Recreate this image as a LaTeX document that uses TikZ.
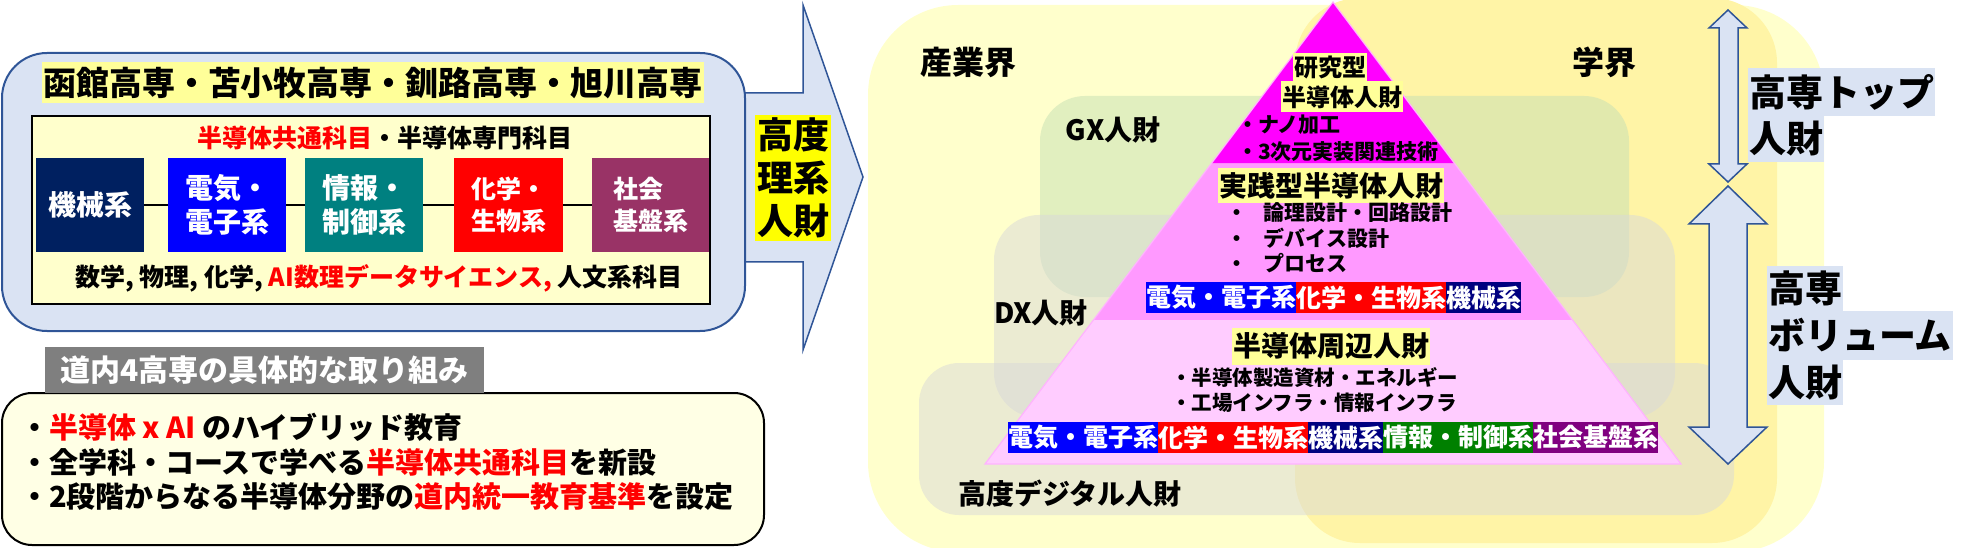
\documentclass[tikz,border=0pt]{standalone}
\usepackage{fontspec}
\setmainfont{Noto Sans CJK JP}
\usetikzlibrary{positioning, calc}

\definecolor{paleblue}{HTML}{DAE3F3}
\definecolor{frameblue}{HTML}{2F5597}
\definecolor{lightyel}{HTML}{FFFF99}
\definecolor{creamyel}{HTML}{FFFFCC}
\definecolor{cream}{HTML}{FFFFE5}
\definecolor{labelgray}{HTML}{7F7F7F}
\definecolor{brightyel}{HTML}{FFFF00}
\definecolor{acadyel}{HTML}{FFF4A6}
\definecolor{gxgreen}{HTML}{C5E0B4}
\definecolor{dxgray}{HTML}{D9D9D9}
\definecolor{navyA}{HTML}{002060}
\definecolor{navyB}{HTML}{000080}
\definecolor{tealC}{HTML}{008080}
\definecolor{plumD}{HTML}{993366}
\definecolor{greenE}{HTML}{008000}
\definecolor{purpleF}{HTML}{800080}
\definecolor{pyrtop}{HTML}{FF00FF}
\definecolor{pyrmid}{HTML}{FF99FF}
\definecolor{pyrlow}{HTML}{FFCCFF}
\definecolor{pyredge}{HTML}{FFB3FF}

\newcommand{\jpfs}[2]{\fontsize{#1}{#2}\selectfont\bfseries}

\tikzset{
  deptbox/.style={minimum height=94, inner sep=0, text=white, align=left, font=\jpfs{28}{34}},
  bandseg/.style={minimum height=31, inner sep=0, text=white, font=\jpfs{25}{30}},
  hlbox/.style={fill=lightyel, inner xsep=1, inner ysep=1},
  sidelabel/.style={fill=paleblue, inner xsep=1, inner ysep=0, minimum height=46, anchor=north west, font=\jpfs{37}{40}},
  bigarrow/.style={draw=frameblue, line width=1.5, fill=paleblue}
}

\begin{document}
\begin{tikzpicture}[x=1pt, y=-1pt, every node/.style={outer sep=0}]
  \useasboundingbox (0,0) rectangle (1982,548);

  % arrow to the right, drawn under the left box
  \draw[bigarrow] (720,93) -- (803,93) -- (803,5) -- (863,177) -- (803,350)
    -- (803,262) -- (720,262) -- cycle;

  % left: four colleges
  \draw[frameblue, line width=2, fill=paleblue, rounded corners=45] (2,53) rectangle (745,331);
  \node[fill=lightyel, inner xsep=1, minimum height=41, font=\jpfs{33}{40}] (kosen) at (373,83)
    {函館高専・苫小牧高専・釧路高専・旭川高専};
  \draw[line width=2, fill=creamyel] (32,116) rectangle (710,304);
  \node[inner sep=0, font=\jpfs{25}{30}] (subjA) at (385,138)
    {\textcolor{red}{半導体共通科目}・半導体専門科目};
  \node[deptbox, fill=navyA, minimum width=108] (kikai) at (90,205) {機械系};
  \node[deptbox, fill=blue, minimum width=118] (denki) at (227,205) {電気・\\電子系};
  \node[deptbox, fill=tealC, minimum width=118] (joho) at (364,205) {情報・\\制御系};
  \node[deptbox, fill=red, minimum width=109, font=\jpfs{25}{32}] (kagaku) at (508.5,205) {化学・\\生物系};
  \node[deptbox, fill=plumD, minimum width=117, font=\jpfs{25}{32}] (shakai) at (650.5,205) {社会\\基盤系};
  \foreach \a/\b in {kikai/denki, denki/joho, joho/kagaku, kagaku/shakai}
    \draw[line width=2] (\a) -- (\b);
  \node[inner sep=0, font=\jpfs{25}{30}] (subjB) at (379,278)
    {数学, 物理, 化学, \textcolor{red}{AI数理データサイエンス,} 人文系科目};

  \node[fill=brightyel, inner xsep=2, inner ysep=3, align=center, font=\jpfs{36}{43}] (rikei) at (793,178)
    {高度\\理系\\人財};

  % left: efforts
  \draw[line width=2, fill=cream, rounded corners=30] (2,393) rectangle (764,545);
  \node[fill=labelgray, text=white, anchor=north west, minimum width=439, minimum height=46,
    inner sep=0, font=\jpfs{30}{34}] (torikumi) at (45,347) {道内4高専の具体的な取り組み};
  \node[anchor=west, inner sep=0, font=\jpfs{29}{34}] (itemA) at (20,427)
    {・\textcolor{red}{半導体 x AI} のハイブリッド教育};
  \node[anchor=west, inner sep=0, font=\jpfs{29}{34}] (itemB) at (20,462)
    {・全学科・コースで学べる\textcolor{red}{半導体共通科目}を新設};
  \node[anchor=west, inner sep=0, font=\jpfs{29}{34}] (itemC) at (20,497)
    {・2段階からなる半導体分野の\textcolor{red}{道内統一教育基準}を設定};

  % right: regions
  \fill[creamyel, rounded corners=90] (868,5) rectangle (1824,552);
  \fill[acadyel, rounded corners=65] (1295,-2) rectangle (1777,543);
  \fill[gxgreen, opacity=0.5, rounded corners=45] (1040,96) rectangle (1629,297);
  \fill[dxgray, opacity=0.5, rounded corners=45] (994,215) rectangle (1675,418);
  \fill[dxgray, opacity=0.5, rounded corners=40] (919,363) rectangle (1734,515);

  \node[inner sep=0, font=\jpfs{32}{36}] (sangyo) at (968,62) {産業界};
  \node[inner sep=0, font=\jpfs{32}{36}] (gakkai) at (1604,62) {学界};
  \node[inner sep=0, font=\jpfs{28}{32}] (gx) at (1113,130) {GX人財};
  \node[inner sep=0, font=\jpfs{28}{32}] (dx) at (1041,313) {DX人財};
  \node[inner sep=0, font=\jpfs{28}{32}] (digital) at (1070,494) {高度デジタル人財};

  % pyramid
  \coordinate (apex) at (1333,2);
  \coordinate (bl) at (985,464);
  \coordinate (br) at (1681,464);
  \coordinate (l1) at ($(apex)!0.3485!(bl)$);
  \coordinate (r1) at ($(apex)!0.3485!(br)$);
  \coordinate (l2) at ($(apex)!0.6883!(bl)$);
  \coordinate (r2) at ($(apex)!0.6883!(br)$);
  \fill[pyrlow] (l2) -- (r2) -- (br) -- (bl) -- cycle;
  \fill[pyrmid] (l1) -- (r1) -- (r2) -- (l2) -- cycle;
  \fill[pyrtop] (apex) -- (r1) -- (l1) -- cycle;
  \draw[pyredge, line width=1.2] (apex) -- (br) -- (bl) -- cycle;

  \node[hlbox, minimum height=28, font=\jpfs{24}{28}] (kenkyu) at (1330,67) {研究型};
  \node[hlbox, minimum height=31, font=\jpfs{24}{28}] (kenkyuB) at (1342,97) {半導体人財};
  \node[anchor=west, inner sep=0, font=\jpfs{21}{24}] (nano) at (1237,125) {・ナノ加工};
  \node[anchor=west, inner sep=0, font=\jpfs{21}{24}] (jisso) at (1237,152) {・3次元実装関連技術};

  \node[hlbox, minimum height=35, font=\jpfs{28}{32}] (jissen) at (1331,186) {実践型半導体人財};
  \node[anchor=west, inner sep=0, font=\jpfs{21}{24}] (ronri) at (1226.5,213) {・\hspace{16.5pt}論理設計・回路設計};
  \node[anchor=west, inner sep=0, font=\jpfs{21}{24}] (device) at (1226.5,238) {・\hspace{16.5pt}デバイス設計};
  \node[anchor=west, inner sep=0, font=\jpfs{21}{24}] (process) at (1226.5,263) {・\hspace{16.5pt}プロセス};

  \node[bandseg, fill=blue, anchor=west] (midA) at (1146,297.5) {電気・電子系};
  \node[bandseg, fill=red, right=0pt of midA] (midB) {化学・生物系};
  \node[bandseg, fill=navyB, right=0pt of midB] (midC) {機械系};

  \node[hlbox, minimum height=37, font=\jpfs{28}{32}] (shuhen) at (1331,346) {半導体周辺人財};
  \node[anchor=west, inner sep=0, font=\jpfs{20.5}{24}] (shizai) at (1171,378) {・半導体製造資材・エネルギー};
  \node[anchor=west, inner sep=0, font=\jpfs{20.5}{24}] (infra) at (1171,403) {・工場インフラ・情報インフラ};

  \node[bandseg, fill=blue, anchor=west] (lowA) at (1008,437.5) {電気・電子系};
  \node[bandseg, fill=red, right=0pt of lowA] (lowB) {化学・生物系};
  \node[bandseg, fill=navyB, right=0pt of lowB] (lowC) {機械系};
  \node[bandseg, fill=greenE, right=0pt of lowC] (lowD) {情報・制御系};
  \node[bandseg, fill=purpleF, right=0pt of lowD] (lowE) {社会基盤系};

  % right: double arrows and labels
  \draw[bigarrow] (1728,10) -- (1747,28) -- (1738,28) -- (1738,164) -- (1747,164) -- (1728,182)
    -- (1709,164) -- (1719,164) -- (1719,28) -- (1709,28) -- cycle;
  \draw[bigarrow] (1728,186) -- (1767,224) -- (1747,224) -- (1747,427) -- (1767,427) -- (1728,464)
    -- (1689,427) -- (1709,427) -- (1709,224) -- (1689,224) -- cycle;

  \node[sidelabel, minimum height=48] (topA) at (1748,68) {高専トップ};
  \node[sidelabel] (topB) at (1748,116) {人財};
  \node[sidelabel, minimum height=45] (volA) at (1767,266) {高専};
  \node[sidelabel, minimum height=49] (volB) at (1767,311) {ボリューム};
  \node[sidelabel, minimum height=45] (volC) at (1767,360) {人財};
\end{tikzpicture}
\end{document}
